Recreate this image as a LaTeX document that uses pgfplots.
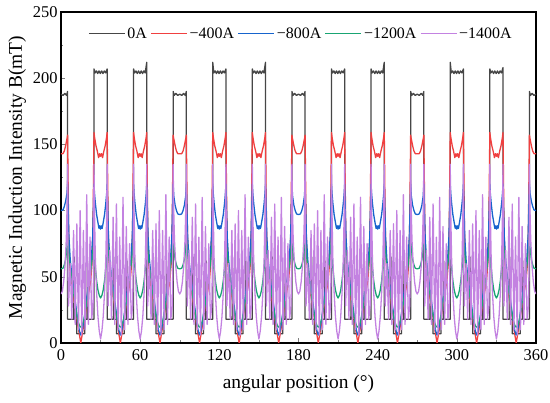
\documentclass[border=0pt]{standalone}
\usepackage{fontspec}
\setmainfont{Liberation Serif}
\usepackage{pgfplots}
\pgfplotsset{compat=1.18}
\definecolor{cA}{RGB}{70,70,70}
\definecolor{cB}{RGB}{240,64,64}
\definecolor{cC}{RGB}{22,100,205}
\definecolor{cD}{RGB}{25,165,115}
\definecolor{cE}{RGB}{195,130,225}
\begin{document}
\begin{tikzpicture}
\begin{axis}[name=ax,
  scale only axis, width=475bp, height=331bp,
  xmin=0, xmax=360, ymin=0, ymax=250,
  xtick={0,60,...,360}, ytick={0,50,...,250},
  minor x tick num=1, minor y tick num=1,
  xtick pos=bottom, ytick pos=left, tick align=inside,
  major tick length=4.5bp, minor tick length=2.5bp,
  axis line style={line width=1.3bp},
  /pgf/number format/assume math mode=true,
  tick label style={font=\fontsize{16.5}{18}\selectfont},
  xticklabel style={yshift=-3bp},
  xlabel={angular position (°)},
  ylabel={Magnetic Induction Intensity B(mT)},
  label style={font=\fontsize{19.5}{22}\selectfont},
  xlabel style={yshift=-8bp},
  legend columns=5,
  legend style={draw=none, fill=none, at={(0.505,0.965)}, anchor=north,
    font=\fontsize{16}{18}\selectfont,
    /tikz/every even column/.append style={column sep=1.5bp}},
  legend image code/.code={\draw[mark repeat=2,mark phase=2,#1,line width=1.3bp] plot coordinates {(0bp,0bp) (18bp,0bp) (36bp,0bp)};},
]
\addlegendimage{color=cA}
\addlegendentry{0A}
\addlegendimage{color=cB}
\addlegendentry{−400A}
\addlegendimage{color=cC}
\addlegendentry{−800A}
\addlegendimage{color=cD}
\addlegendentry{−1200A}
\addlegendimage{color=cE}
\addlegendentry{−1400A}
\addplot[forget plot, color=cA, line width=1.3bp, line join=round] coordinates {
(0,188) (1.5,187) (3,188.5) (4.2,187) (5,190) (5,18)
(9.7,18) (10,65) (10.3,18) (12,18) (12,7) (18,7) (18,18) (19.7,18) (20,62) (20.3,18) (25,18)
(25,207) (25.8,204) (26.8,205.5) (27.8,203.5) (28.8,205.5) (29.8,203.5) (30.8,205.5) (31.8,203.5) (32.8,205.5) (33.8,204) (35,207) (35,18)
(39.7,18) (40,65) (40.3,18) (42,18) (42,7) (48,7) (48,18) (49.7,18) (50,62) (50.3,18) (55,18)
(55,207) (55.8,204) (56.8,205.5) (57.8,203.5) (58.8,205.5) (59.8,203.5) (60.8,205.5) (61.8,203.5) (62.8,205.5) (63.8,204) (65,212) (65,18)
(69.7,18) (70,65) (70.3,18) (72,18) (72,7) (78,7) (78,18) (79.7,18) (80,62) (80.3,18) (85,18)
(85,190) (85.8,187) (87,188.5) (88.5,187) (90,188) (91.5,187) (93,188.5) (94.2,187) (95,190) (95,18)
(99.7,18) (100,65) (100.3,18) (102,18) (102,7) (108,7) (108,18) (109.7,18) (110,62) (110.3,18) (115,18)
(115,212) (115.8,204) (116.8,205.5) (117.8,203.5) (118.8,205.5) (119.8,203.5) (120.8,205.5) (121.8,203.5) (122.8,205.5) (123.8,204) (125,207) (125,18)
(129.7,18) (130,65) (130.3,18) (132,18) (132,7) (138,7) (138,18) (139.7,18) (140,62) (140.3,18) (145,18)
(145,207) (145.8,204) (146.8,205.5) (147.8,203.5) (148.8,205.5) (149.8,203.5) (150.8,205.5) (151.8,203.5) (152.8,205.5) (153.8,204) (155,212) (155,18)
(159.7,18) (160,65) (160.3,18) (162,18) (162,7) (168,7) (168,18) (169.7,18) (170,62) (170.3,18) (175,18)
(175,190) (175.8,187) (177,188.5) (178.5,187) (180,188) (181.5,187) (183,188.5) (184.2,187) (185,190) (185,18)
(189.7,18) (190,65) (190.3,18) (192,18) (192,7) (198,7) (198,18) (199.7,18) (200,62) (200.3,18) (205,18)
(205,207) (205.8,204) (206.8,205.5) (207.8,203.5) (208.8,205.5) (209.8,203.5) (210.8,205.5) (211.8,203.5) (212.8,205.5) (213.8,204) (215,207) (215,18)
(219.7,18) (220,65) (220.3,18) (222,18) (222,7) (228,7) (228,18) (229.7,18) (230,62) (230.3,18) (235,18)
(235,207) (235.8,204) (236.8,205.5) (237.8,203.5) (238.8,205.5) (239.8,203.5) (240.8,205.5) (241.8,203.5) (242.8,205.5) (243.8,204) (245,212) (245,18)
(249.7,18) (250,65) (250.3,18) (252,18) (252,7) (258,7) (258,18) (259.7,18) (260,62) (260.3,18) (265,18)
(265,190) (265.8,187) (267,188.5) (268.5,187) (270,188) (271.5,187) (273,188.5) (274.2,187) (275,190) (275,18)
(279.7,18) (280,65) (280.3,18) (282,18) (282,7) (288,7) (288,18) (289.7,18) (290,62) (290.3,18) (295,18)
(295,212) (295.8,204) (296.8,205.5) (297.8,203.5) (298.8,205.5) (299.8,203.5) (300.8,205.5) (301.8,203.5) (302.8,205.5) (303.8,204) (305,207) (305,18)
(309.7,18) (310,65) (310.3,18) (312,18) (312,7) (318,7) (318,18) (319.7,18) (320,62) (320.3,18) (325,18)
(325,207) (325.8,204) (326.8,205.5) (327.8,203.5) (328.8,205.5) (329.8,203.5) (330.8,205.5) (331.8,203.5) (332.8,205.5) (333.8,204) (335,208) (335,18)
(339.7,18) (340,65) (340.3,18) (342,18) (342,7) (348,7) (348,18) (349.7,18) (350,62) (350.3,18) (355,18)
(355,190) (355.8,187) (357,188.5) (358.5,187) (360,188)
};
\addplot[forget plot, color=cB, line width=1.3bp, line join=round] coordinates {
(0,143) (1.5,143) (2.5,145) (3.5,149) (4.5,154) (5,157) (5.4,120) (5.8,85) (6.5,60) (7.5,47) (9,38) (10.5,29) (12,19) (13.5,9) (15,0)
(16.5,9) (18,19) (19.5,29) (21,38) (22.5,47) (23.5,60) (24.2,85) (24.6,120) (25,159) (25.5,155) (26.5,149) (27.5,145) (28.5,140) (29.3,143) (30,141) (30.7,143) (31.5,140) (32.5,145) (33.5,149) (34.5,155) (35,159) (35.4,120) (35.8,85) (36.5,60) (37.5,47) (39,38) (40.5,29) (42,19) (43.5,9) (45,0)
(46.5,9) (48,19) (49.5,29) (51,38) (52.5,47) (53.5,60) (54.2,85) (54.6,120) (55,159) (55.5,155) (56.5,149) (57.5,145) (58.5,140) (59.3,143) (60,141) (60.7,143) (61.5,140) (62.5,145) (63.5,149) (64.5,155) (65,159) (65.4,120) (65.8,85) (66.5,60) (67.5,47) (69,38) (70.5,29) (72,19) (73.5,9) (75,0)
(76.5,9) (78,19) (79.5,29) (81,38) (82.5,47) (83.5,60) (84.2,85) (84.6,120) (85,157) (85.5,154) (86.5,149) (87.5,145) (88.5,143) (90,143) (91.5,143) (92.5,145) (93.5,149) (94.5,154) (95,157) (95.4,120) (95.8,85) (96.5,60) (97.5,47) (99,38) (100.5,29) (102,19) (103.5,9) (105,0)
(106.5,9) (108,19) (109.5,29) (111,38) (112.5,47) (113.5,60) (114.2,85) (114.6,120) (115,159) (115.5,155) (116.5,149) (117.5,145) (118.5,140) (119.3,143) (120,141) (120.7,143) (121.5,140) (122.5,145) (123.5,149) (124.5,155) (125,159) (125.4,120) (125.8,85) (126.5,60) (127.5,47) (129,38) (130.5,29) (132,19) (133.5,9) (135,0)
(136.5,9) (138,19) (139.5,29) (141,38) (142.5,47) (143.5,60) (144.2,85) (144.6,120) (145,159) (145.5,155) (146.5,149) (147.5,145) (148.5,140) (149.3,143) (150,141) (150.7,143) (151.5,140) (152.5,145) (153.5,149) (154.5,155) (155,159) (155.4,120) (155.8,85) (156.5,60) (157.5,47) (159,38) (160.5,29) (162,19) (163.5,9) (165,0)
(166.5,9) (168,19) (169.5,29) (171,38) (172.5,47) (173.5,60) (174.2,85) (174.6,120) (175,157) (175.5,154) (176.5,149) (177.5,145) (178.5,143) (180,143) (181.5,143) (182.5,145) (183.5,149) (184.5,154) (185,157) (185.4,120) (185.8,85) (186.5,60) (187.5,47) (189,38) (190.5,29) (192,19) (193.5,9) (195,0)
(196.5,9) (198,19) (199.5,29) (201,38) (202.5,47) (203.5,60) (204.2,85) (204.6,120) (205,159) (205.5,155) (206.5,149) (207.5,145) (208.5,140) (209.3,143) (210,141) (210.7,143) (211.5,140) (212.5,145) (213.5,149) (214.5,155) (215,159) (215.4,120) (215.8,85) (216.5,60) (217.5,47) (219,38) (220.5,29) (222,19) (223.5,9) (225,0)
(226.5,9) (228,19) (229.5,29) (231,38) (232.5,47) (233.5,60) (234.2,85) (234.6,120) (235,159) (235.5,155) (236.5,149) (237.5,145) (238.5,140) (239.3,143) (240,141) (240.7,143) (241.5,140) (242.5,145) (243.5,149) (244.5,155) (245,159) (245.4,120) (245.8,85) (246.5,60) (247.5,47) (249,38) (250.5,29) (252,19) (253.5,9) (255,0)
(256.5,9) (258,19) (259.5,29) (261,38) (262.5,47) (263.5,60) (264.2,85) (264.6,120) (265,157) (265.5,154) (266.5,149) (267.5,145) (268.5,143) (270,143) (271.5,143) (272.5,145) (273.5,149) (274.5,154) (275,157) (275.4,120) (275.8,85) (276.5,60) (277.5,47) (279,38) (280.5,29) (282,19) (283.5,9) (285,0)
(286.5,9) (288,19) (289.5,29) (291,38) (292.5,47) (293.5,60) (294.2,85) (294.6,120) (295,159) (295.5,155) (296.5,149) (297.5,145) (298.5,140) (299.3,143) (300,141) (300.7,143) (301.5,140) (302.5,145) (303.5,149) (304.5,155) (305,159) (305.4,120) (305.8,85) (306.5,60) (307.5,47) (309,38) (310.5,29) (312,19) (313.5,9) (315,0)
(316.5,9) (318,19) (319.5,29) (321,38) (322.5,47) (323.5,60) (324.2,85) (324.6,120) (325,159) (325.5,155) (326.5,149) (327.5,145) (328.5,140) (329.3,143) (330,141) (330.7,143) (331.5,140) (332.5,145) (333.5,149) (334.5,155) (335,159) (335.4,120) (335.8,85) (336.5,60) (337.5,47) (339,38) (340.5,29) (342,19) (343.5,9) (345,0)
(346.5,9) (348,19) (349.5,29) (351,38) (352.5,47) (353.5,60) (354.2,85) (354.6,120) (355,157) (355.5,154) (356.5,149) (357.5,145) (358.5,143) (360,143)
};
\addplot[forget plot, color=cC, line width=1.3bp, line join=round] coordinates {
(0,100) (1.5,100.5) (2.5,103) (3.5,107) (4.5,113) (5,120) (5.5,100) (6,80) (7,63) (8,53) (9.5,42) (11,30) (12.5,18) (14,9) (15,6)
(16,9) (17.5,18) (19,30) (20.5,42) (22,53) (23,63) (24,80) (24.5,100) (25,120) (25.4,113) (26,106) (27,97) (28,91) (28.8,86.5) (29.4,88.5) (30,86) (30.6,88.5) (31.2,86.5) (32,91) (33,97) (34,106) (34.6,113) (35,120) (35.5,100) (36,80) (37,63) (38,53) (39.5,42) (41,30) (42.5,18) (44,9) (45,6)
(46,9) (47.5,18) (49,30) (50.5,42) (52,53) (53,63) (54,80) (54.5,100) (55,120) (55.4,113) (56,106) (57,97) (58,91) (58.8,86.5) (59.4,88.5) (60,86) (60.6,88.5) (61.2,86.5) (62,91) (63,97) (64,106) (64.6,113) (65,120) (65.5,100) (66,80) (67,63) (68,53) (69.5,42) (71,30) (72.5,18) (74,9) (75,6)
(76,9) (77.5,18) (79,30) (80.5,42) (82,53) (83,63) (84,80) (84.5,100) (85,120) (85.5,111) (86.5,104) (87.5,100) (88.5,97.5) (90,97) (91.5,97.5) (92.5,100) (93.5,104) (94.5,111) (95,120) (95.5,100) (96,80) (97,63) (98,53) (99.5,42) (101,30) (102.5,18) (104,9) (105,6)
(106,9) (107.5,18) (109,30) (110.5,42) (112,53) (113,63) (114,80) (114.5,100) (115,120) (115.4,113) (116,106) (117,97) (118,91) (118.8,86.5) (119.4,88.5) (120,86) (120.6,88.5) (121.2,86.5) (122,91) (123,97) (124,106) (124.6,113) (125,120) (125.5,100) (126,80) (127,63) (128,53) (129.5,42) (131,30) (132.5,18) (134,9) (135,6)
(136,9) (137.5,18) (139,30) (140.5,42) (142,53) (143,63) (144,80) (144.5,100) (145,120) (145.4,113) (146,106) (147,97) (148,91) (148.8,86.5) (149.4,88.5) (150,86) (150.6,88.5) (151.2,86.5) (152,91) (153,97) (154,106) (154.6,113) (155,120) (155.5,100) (156,80) (157,63) (158,53) (159.5,42) (161,30) (162.5,18) (164,9) (165,6)
(166,9) (167.5,18) (169,30) (170.5,42) (172,53) (173,63) (174,80) (174.5,100) (175,120) (175.5,111) (176.5,104) (177.5,100) (178.5,97.5) (180,97) (181.5,97.5) (182.5,100) (183.5,104) (184.5,111) (185,120) (185.5,100) (186,80) (187,63) (188,53) (189.5,42) (191,30) (192.5,18) (194,9) (195,6)
(196,9) (197.5,18) (199,30) (200.5,42) (202,53) (203,63) (204,80) (204.5,100) (205,120) (205.4,113) (206,106) (207,97) (208,91) (208.8,86.5) (209.4,88.5) (210,86) (210.6,88.5) (211.2,86.5) (212,91) (213,97) (214,106) (214.6,113) (215,120) (215.5,100) (216,80) (217,63) (218,53) (219.5,42) (221,30) (222.5,18) (224,9) (225,6)
(226,9) (227.5,18) (229,30) (230.5,42) (232,53) (233,63) (234,80) (234.5,100) (235,120) (235.4,113) (236,106) (237,97) (238,91) (238.8,86.5) (239.4,88.5) (240,86) (240.6,88.5) (241.2,86.5) (242,91) (243,97) (244,106) (244.6,113) (245,120) (245.5,100) (246,80) (247,63) (248,53) (249.5,42) (251,30) (252.5,18) (254,9) (255,6)
(256,9) (257.5,18) (259,30) (260.5,42) (262,53) (263,63) (264,80) (264.5,100) (265,120) (265.5,111) (266.5,104) (267.5,100) (268.5,97.5) (270,97) (271.5,97.5) (272.5,100) (273.5,104) (274.5,111) (275,120) (275.5,100) (276,80) (277,63) (278,53) (279.5,42) (281,30) (282.5,18) (284,9) (285,6)
(286,9) (287.5,18) (289,30) (290.5,42) (292,53) (293,63) (294,80) (294.5,100) (295,120) (295.4,113) (296,106) (297,97) (298,91) (298.8,86.5) (299.4,88.5) (300,86) (300.6,88.5) (301.2,86.5) (302,91) (303,97) (304,106) (304.6,113) (305,120) (305.5,100) (306,80) (307,63) (308,53) (309.5,42) (311,30) (312.5,18) (314,9) (315,6)
(316,9) (317.5,18) (319,30) (320.5,42) (322,53) (323,63) (324,80) (324.5,100) (325,120) (325.4,113) (326,106) (327,97) (328,91) (328.8,86.5) (329.4,88.5) (330,86) (330.6,88.5) (331.2,86.5) (332,91) (333,97) (334,106) (334.6,113) (335,120) (335.5,100) (336,80) (337,63) (338,53) (339.5,42) (341,30) (342.5,18) (344,9) (345,6)
(346,9) (347.5,18) (349,30) (350.5,42) (352,53) (353,63) (354,80) (354.5,100) (355,120) (355.5,113) (356.5,107) (357.5,103) (358.5,100.5) (360,100)
};
\addplot[forget plot, color=cD, line width=1.3bp, line join=round] coordinates {
(0,56) (1.5,56.5) (2.5,59) (3.5,63) (4.5,72) (5,82) (5.6,72) (6.5,62) (8,50) (9.5,38) (11,27) (12.5,18) (14,13) (15,12)
(16,13) (17.5,18) (19,27) (20.5,38) (22,50) (23.5,62) (24.4,72) (25,80) (25.4,67) (26,57) (27,47) (28,40) (29,36) (30,34) (31,36) (32,40) (33,47) (34,57) (34.6,67) (35,80) (35.6,72) (36.5,62) (38,50) (39.5,38) (41,27) (42.5,18) (44,13) (45,12)
(46,13) (47.5,18) (49,27) (50.5,38) (52,50) (53.5,62) (54.4,72) (55,80) (55.4,67) (56,57) (57,47) (58,40) (59,36) (60,34) (61,36) (62,40) (63,47) (64,57) (64.6,67) (65,80) (65.6,72) (66.5,62) (68,50) (69.5,38) (71,27) (72.5,18) (74,13) (75,12)
(76,13) (77.5,18) (79,27) (80.5,38) (82,50) (83.5,62) (84.4,72) (85,82) (85.5,72) (86.5,63) (87.5,59) (88.5,56.5) (90,56) (91.5,56.5) (92.5,59) (93.5,63) (94.5,72) (95,82) (95.6,72) (96.5,62) (98,50) (99.5,38) (101,27) (102.5,18) (104,13) (105,12)
(106,13) (107.5,18) (109,27) (110.5,38) (112,50) (113.5,62) (114.4,72) (115,80) (115.4,67) (116,57) (117,47) (118,40) (119,36) (120,34) (121,36) (122,40) (123,47) (124,57) (124.6,67) (125,80) (125.6,72) (126.5,62) (128,50) (129.5,38) (131,27) (132.5,18) (134,13) (135,12)
(136,13) (137.5,18) (139,27) (140.5,38) (142,50) (143.5,62) (144.4,72) (145,80) (145.4,67) (146,57) (147,47) (148,40) (149,36) (150,34) (151,36) (152,40) (153,47) (154,57) (154.6,67) (155,80) (155.6,72) (156.5,62) (158,50) (159.5,38) (161,27) (162.5,18) (164,13) (165,12)
(166,13) (167.5,18) (169,27) (170.5,38) (172,50) (173.5,62) (174.4,72) (175,82) (175.5,72) (176.5,63) (177.5,59) (178.5,56.5) (180,56) (181.5,56.5) (182.5,59) (183.5,63) (184.5,72) (185,82) (185.6,72) (186.5,62) (188,50) (189.5,38) (191,27) (192.5,18) (194,13) (195,12)
(196,13) (197.5,18) (199,27) (200.5,38) (202,50) (203.5,62) (204.4,72) (205,80) (205.4,67) (206,57) (207,47) (208,40) (209,36) (210,34) (211,36) (212,40) (213,47) (214,57) (214.6,67) (215,80) (215.6,72) (216.5,62) (218,50) (219.5,38) (221,27) (222.5,18) (224,13) (225,12)
(226,13) (227.5,18) (229,27) (230.5,38) (232,50) (233.5,62) (234.4,72) (235,80) (235.4,67) (236,57) (237,47) (238,40) (239,36) (240,34) (241,36) (242,40) (243,47) (244,57) (244.6,67) (245,80) (245.6,72) (246.5,62) (248,50) (249.5,38) (251,27) (252.5,18) (254,13) (255,12)
(256,13) (257.5,18) (259,27) (260.5,38) (262,50) (263.5,62) (264.4,72) (265,82) (265.5,72) (266.5,63) (267.5,59) (268.5,56.5) (270,56) (271.5,56.5) (272.5,59) (273.5,63) (274.5,72) (275,82) (275.6,72) (276.5,62) (278,50) (279.5,38) (281,27) (282.5,18) (284,13) (285,12)
(286,13) (287.5,18) (289,27) (290.5,38) (292,50) (293.5,62) (294.4,72) (295,80) (295.4,67) (296,57) (297,47) (298,40) (299,36) (300,34) (301,36) (302,40) (303,47) (304,57) (304.6,67) (305,80) (305.6,72) (306.5,62) (308,50) (309.5,38) (311,27) (312.5,18) (314,13) (315,12)
(316,13) (317.5,18) (319,27) (320.5,38) (322,50) (323.5,62) (324.4,72) (325,80) (325.4,67) (326,57) (327,47) (328,40) (329,36) (330,34) (331,36) (332,40) (333,47) (334,57) (334.6,67) (335,80) (335.6,72) (336.5,62) (338,50) (339.5,38) (341,27) (342.5,18) (344,13) (345,12)
(346,13) (347.5,18) (349,27) (350.5,38) (352,50) (353.5,62) (354.4,72) (355,82) (355.5,72) (356.5,63) (357.5,59) (358.5,56.5) (360,56)
};
\addplot[forget plot, color=cE, line width=1.3bp, line join=round] coordinates {
(0,37) (1,39) (2,46) (3,58) (4,78) (4.6,102) (5,135)
(5.3,55) (5.7,28) (7,60) (8.25,18) (9.5,85) (10.75,14) (12,90) (13.25,10) (14.5,100) (15.75,6) (17,85) (18.25,10) (19.5,112) (20.75,14) (22,80) (23.25,18) (24.3,28) (24.7,55)
(25,135) (25.4,98) (26,65) (27,38) (28,20) (29,9) (30,3) (31,9) (32,20) (33,38) (34,65) (34.6,98) (35,135)
(35.3,55) (35.7,28) (37,70) (38.25,18) (39.5,95) (40.75,14) (42,105) (43.25,10) (44.5,80) (45.75,6) (47,110) (48.25,10) (49.5,88) (50.75,14) (52,75) (53.25,18) (54.3,28) (54.7,55)
(55,135) (55.4,98) (56,65) (57,38) (58,20) (59,9) (60,3) (61,9) (62,20) (63,38) (64,65) (64.6,98) (65,135)
(65.3,55) (65.7,28) (67,60) (68.25,18) (69.5,85) (70.75,14) (72,90) (73.25,10) (74.5,100) (75.75,6) (77,85) (78.25,10) (79.5,112) (80.75,14) (82,80) (83.25,18) (84.3,28) (84.7,55)
(85,135) (85.4,102) (86,78) (87,58) (88,46) (89,39) (90,37) (91,39) (92,46) (93,58) (94,78) (94.6,102) (95,135)
(95.3,55) (95.7,28) (97,70) (98.25,18) (99.5,95) (100.75,14) (102,105) (103.25,10) (104.5,80) (105.75,6) (107,110) (108.25,10) (109.5,88) (110.75,14) (112,75) (113.25,18) (114.3,28) (114.7,55)
(115,135) (115.4,98) (116,65) (117,38) (118,20) (119,9) (120,3) (121,9) (122,20) (123,38) (124,65) (124.6,98) (125,135)
(125.3,55) (125.7,28) (127,60) (128.25,18) (129.5,85) (130.75,14) (132,90) (133.25,10) (134.5,100) (135.75,6) (137,85) (138.25,10) (139.5,112) (140.75,14) (142,80) (143.25,18) (144.3,28) (144.7,55)
(145,135) (145.4,98) (146,65) (147,38) (148,20) (149,9) (150,3) (151,9) (152,20) (153,38) (154,65) (154.6,98) (155,135)
(155.3,55) (155.7,28) (157,70) (158.25,18) (159.5,95) (160.75,14) (162,105) (163.25,10) (164.5,80) (165.75,6) (167,110) (168.25,10) (169.5,88) (170.75,14) (172,75) (173.25,18) (174.3,28) (174.7,55)
(175,135) (175.4,102) (176,78) (177,58) (178,46) (179,39) (180,37) (181,39) (182,46) (183,58) (184,78) (184.6,102) (185,135)
(185.3,55) (185.7,28) (187,60) (188.25,18) (189.5,85) (190.75,14) (192,90) (193.25,10) (194.5,100) (195.75,6) (197,85) (198.25,10) (199.5,112) (200.75,14) (202,80) (203.25,18) (204.3,28) (204.7,55)
(205,135) (205.4,98) (206,65) (207,38) (208,20) (209,9) (210,3) (211,9) (212,20) (213,38) (214,65) (214.6,98) (215,135)
(215.3,55) (215.7,28) (217,70) (218.25,18) (219.5,95) (220.75,14) (222,105) (223.25,10) (224.5,80) (225.75,6) (227,110) (228.25,10) (229.5,88) (230.75,14) (232,75) (233.25,18) (234.3,28) (234.7,55)
(235,135) (235.4,98) (236,65) (237,38) (238,20) (239,9) (240,3) (241,9) (242,20) (243,38) (244,65) (244.6,98) (245,135)
(245.3,55) (245.7,28) (247,60) (248.25,18) (249.5,85) (250.75,14) (252,90) (253.25,10) (254.5,100) (255.75,6) (257,85) (258.25,10) (259.5,112) (260.75,14) (262,80) (263.25,18) (264.3,28) (264.7,55)
(265,135) (265.4,102) (266,78) (267,58) (268,46) (269,39) (270,37) (271,39) (272,46) (273,58) (274,78) (274.6,102) (275,135)
(275.3,55) (275.7,28) (277,70) (278.25,18) (279.5,95) (280.75,14) (282,105) (283.25,10) (284.5,80) (285.75,6) (287,110) (288.25,10) (289.5,88) (290.75,14) (292,75) (293.25,18) (294.3,28) (294.7,55)
(295,135) (295.4,98) (296,65) (297,38) (298,20) (299,9) (300,3) (301,9) (302,20) (303,38) (304,65) (304.6,98) (305,135)
(305.3,55) (305.7,28) (307,60) (308.25,18) (309.5,85) (310.75,14) (312,90) (313.25,10) (314.5,100) (315.75,6) (317,85) (318.25,10) (319.5,112) (320.75,14) (322,80) (323.25,18) (324.3,28) (324.7,55)
(325,135) (325.4,98) (326,65) (327,38) (328,20) (329,9) (330,3) (331,9) (332,20) (333,38) (334,65) (334.6,98) (335,135)
(335.3,55) (335.7,28) (337,70) (338.25,18) (339.5,95) (340.75,14) (342,105) (343.25,10) (344.5,80) (345.75,6) (347,110) (348.25,10) (349.5,88) (350.75,14) (352,75) (353.25,18) (354.3,28) (354.7,55)
(355,135) (355.4,102) (356,78) (357,58) (358,46) (359,39) (360,37)
};
\end{axis}
\pgfresetboundingbox
\path ([xshift=-61bp,yshift=-60bp]ax.south west) rectangle ([xshift=14bp,yshift=12bp]ax.north east);
\end{tikzpicture}
\end{document}
